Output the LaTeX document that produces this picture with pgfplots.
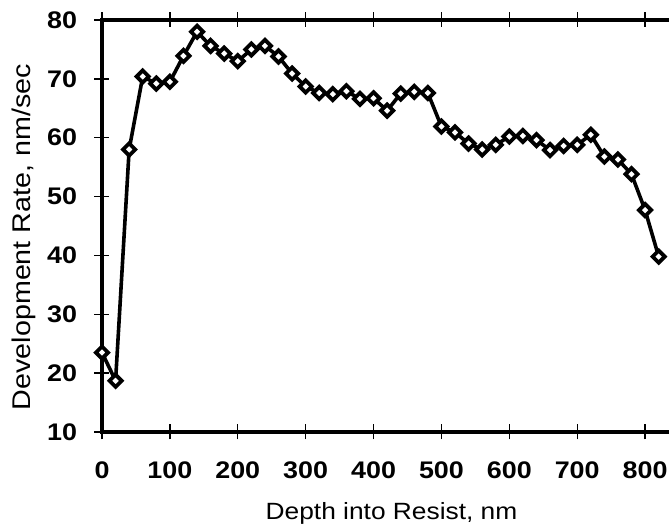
\documentclass[border=0pt]{standalone}
\usepackage{fontspec}
\setmainfont{Liberation Sans}
\usepackage{graphicx}
\usepackage{pgfplots}
\pgfplotsset{compat=1.18}
\newcommand{\wide}[1]{\scalebox{1.12}[1]{#1}}
\begin{document}
\begin{tikzpicture}
\path[use as bounding box] (-102pt,-94pt) rectangle (567pt,432pt);
\begin{axis}[
  at={(0,0)}, anchor=south west,
  scale only axis,
  width=575pt, height=412pt,
  xmin=0, xmax=847, ymin=10, ymax=80,
  xtick={0,100,...,800},
  ytick={10,20,...,80},
  tick align=center,
  major tick length=15pt,
  every tick/.style={black, line width=1.4pt},
  axis line style={line width=3.2pt},
  /pgf/number format/assume math mode=true,
  ticklabel style={font=\fontsize{24}{24}\selectfont\bfseries},
  xticklabel={\wide{\pgfmathprintnumber{\tick}}},
  yticklabel={\wide{\pgfmathprintnumber{\tick}}},
  yticklabel style={anchor=east, xshift=-14pt},
  xticklabel style={anchor=north, yshift=-19pt},
  xlabel={\wide{Depth into Resist, nm}},
  ylabel={\wide{Development Rate, nm/sec}},
  xlabel style={at={(axis description cs:0.5035,-0.212)}, anchor=base, font=\fontsize{23.5}{23.5}\selectfont},
  ylabel style={at={(axis description cs:-0.1235,0.473)}, anchor=base, font=\fontsize{25.6}{25.6}\selectfont},
  clip=false,
]
\addplot[black, line width=3.6pt, mark=square*, mark size=4.3pt,
  mark options={rotate=45, fill=white, line width=3.8pt}]
coordinates {
(0,23.5) (20,18.7) (40,58.0) (60,70.4) (80,69.2) (100,69.5) (120,73.9)
(140,78.0) (160,75.6) (180,74.3) (200,73.0) (220,75.0) (240,75.6) (260,73.8)
(280,70.9) (300,68.7) (320,67.6) (340,67.4) (360,67.9) (380,66.6) (400,66.7)
(420,64.6) (440,67.5) (460,67.8) (480,67.6) (500,61.9) (520,60.9) (540,59.0)
(560,58.0) (580,58.8) (600,60.2) (620,60.3) (640,59.6) (660,57.9) (680,58.6)
(700,58.8) (720,60.5) (740,56.8) (760,56.3) (780,53.8) (800,47.7) (820,39.8)
};
\end{axis}
\end{tikzpicture}
\end{document}
